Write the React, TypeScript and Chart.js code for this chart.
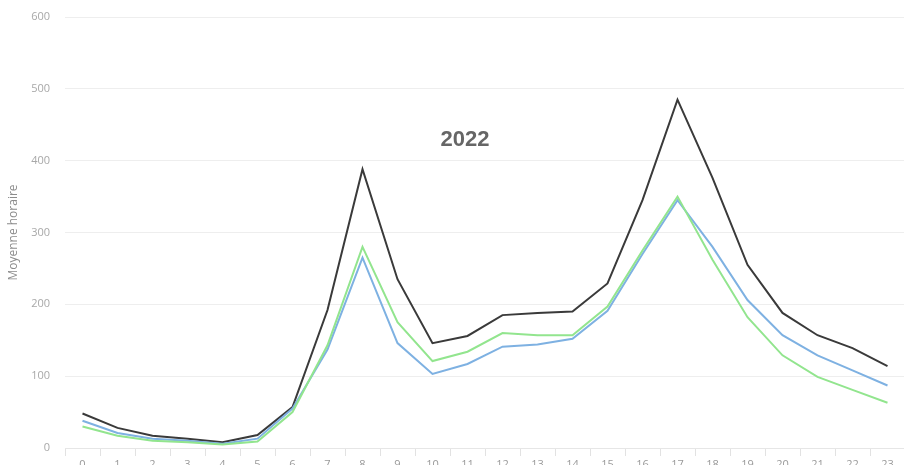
import React, { useEffect, useRef } from "react";
import { Chart, registerables } from "chart.js";

Chart.register(...registerables);

const hours: string[] = Array.from({ length: 24 }, (_, i) => String(i));
const yTicks: number[] = [0, 100, 200, 300, 400, 500, 600];
const titleText = "2022";
const yAxisTitle = "Moyenne horaire";

const seriesDark: number[] = [48, 28, 17, 13, 8, 18, 57, 192, 388, 235, 146, 156, 185, 188, 190, 229, 345, 485, 376, 255, 188, 157, 139, 114];
const seriesBlue: number[] = [38, 21, 13, 10, 6, 13, 55, 137, 265, 146, 103, 117, 141, 144, 152, 191, 270, 345, 280, 206, 157, 129, 108, 87];
const seriesGreen: number[] = [30, 17, 10, 8, 5, 9, 50, 143, 280, 175, 121, 134, 160, 157, 157, 197, 275, 350, 262, 182, 129, 99, 81, 63];

const W = 906;
const H = 475;

const titlePlugin = {
  id: "innerTitle",
  afterDraw(chart: any) {
    const ctx = chart.ctx;
    ctx.save();
    ctx.font = "bold 22px 'Liberation Sans', Arial, sans-serif";
    ctx.fillStyle = "#666666";
    ctx.textAlign = "center";
    ctx.textBaseline = "middle";
    ctx.fillText(titleText, 465, 140);
    ctx.restore();
  },
};

export default function App() {
  const ref = useRef<HTMLCanvasElement | null>(null);
  useEffect(() => {
    if (!ref.current) return;
    const chart = new Chart(ref.current, {
      type: "line",
      data: {
        labels: hours,
        datasets: [
          { label: "c", data: seriesGreen, borderColor: "#92e58e", borderWidth: 2, pointRadius: 0, tension: 0, fill: false },
          { label: "b", data: seriesBlue, borderColor: "#7eb1e2", borderWidth: 2, pointRadius: 0, tension: 0, fill: false },
          { label: "a", data: seriesDark, borderColor: "#3a3a3a", borderWidth: 2, pointRadius: 0, tension: 0, fill: false },
        ],
      },
      options: {
        responsive: false,
        animation: false,
        layout: { padding: { top: 17, right: 1, left: 0, bottom: 0 } },
        plugins: { legend: { display: false }, tooltip: { enabled: false }, title: { display: false } },
        scales: {
          x: {
            offset: true,
            grid: { offset: true, drawOnChartArea: false, drawTicks: true, tickLength: 8, color: "#e2e2e2" },
            border: { display: true, color: "#e6e6e6" },
            ticks: { color: "#999999", font: { family: "'Open Sans', sans-serif", size: 11 }, padding: 2, maxRotation: 0, autoSkip: false },
            afterFit: (s: any) => { s.height = H - 448; },
          },
          y: {
            min: 0,
            max: 600,
            afterBuildTicks: (s: any) => { s.ticks = yTicks.map((v) => ({ value: v })); },
            grid: { drawTicks: false, color: "#eeeeee" },
            border: { display: false },
            ticks: { color: "#a8a8a8", font: { family: "'Open Sans', sans-serif", size: 11 }, padding: 15 },
            title: { display: true, text: yAxisTitle, color: "#8c8c8c", font: { family: "'Open Sans', sans-serif", size: 12 }, padding: { top: 6, bottom: 0 } },
            afterFit: (s: any) => { s.width = 65; s.paddingTop = 0; s.paddingBottom = 0; },
          },
        },
      },
      plugins: [titlePlugin],
    });
    return () => chart.destroy();
  }, []);
  return (
    <div style={{ position: "fixed", left: 0, top: 0, width: 904, height: 465, overflow: "hidden", background: "#fff" }}>
      <canvas ref={ref} width={W} height={H} style={{ display: "block", width: W, height: H }} />
    </div>
  );
}
